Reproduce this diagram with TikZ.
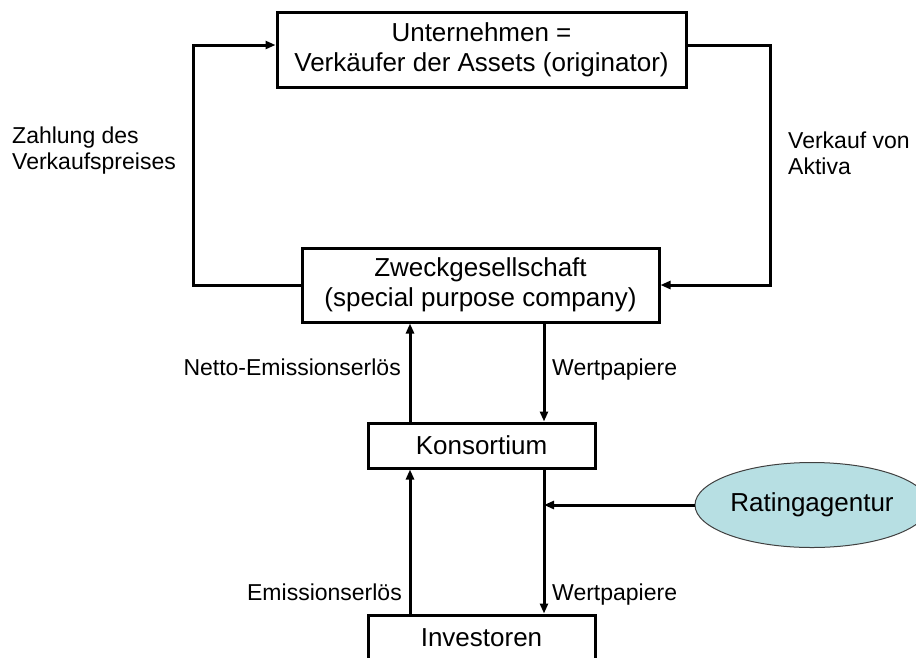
\documentclass[tikz,border=0pt]{standalone}
\usepackage{fontspec}
\setmainfont{Liberation Sans}
\usetikzlibrary{arrows.meta,shapes.geometric,positioning}
\definecolor{ratingfill}{RGB}{183,223,227}

\begin{document}
\begin{tikzpicture}[x=1pt,y=-1pt]
	\useasboundingbox (0,0) rectangle (916,657);
	\begin{scope}[every node/.style={draw,line width=3pt,inner sep=0pt,align=center,
			font=\fontsize{26}{30}\selectfont}]
		\node[minimum width=409pt,minimum height=75pt] (U) at (481.5,49.5) {Unternehmen =\\Verkäufer der Assets (originator)};
		\node[minimum width=357pt,minimum height=74pt] (Z) at (480.5,285) {Zweckgesellschaft\\(special purpose company)};
		\node[minimum width=227pt,minimum height=45pt] (K) at (481.5,445.5) {Konsortium};
		\node[minimum width=227pt,minimum height=45pt] (I) at (481.5,637.5) {Investoren};
		\node[ellipse,line width=1pt,draw=black!75,fill=ratingfill,
			minimum width=234pt,minimum height=85pt] (R) at (812,505) {Ratingagentur};
	\end{scope}

	\begin{scope}[every node/.style={inner sep=0pt,font=\fontsize{23}{26}\selectfont}]
		\node[anchor=west,align=left] (zahlung) at (12,151) {Zahlung des\\Verkaufspreises};
		\node[anchor=west,align=left] (verkauf) at (788,153) {Verkauf von\\Aktiva};
		\node[anchor=base east] (netto) at (401,375) {Netto-Emissionserlös};
		\node[anchor=base west] (wp1) at (552,375) {Wertpapiere};
		\node[anchor=base east] (emis) at (402,600) {Emissionserlös};
		\node[anchor=base west] (wp2) at (552,600) {Wertpapiere};
	\end{scope}

	\coordinate (lcorner) at (193,45);
	\coordinate (rcorner) at (770,45);
	\coordinate (lx) at (410,0);
	\coordinate (rx) at (544,0);

	\begin{scope}[>={Triangle[length=10pt,width=8pt]}, line width=3pt,
		every edge/.style={draw}]
		\draw[->] (Z.west) -| (lcorner) -- (lcorner -| U.west);
		\draw[->] (U.east |- rcorner) -- (rcorner) |- (Z.east);
		\path[->] (K.north -| lx) edge (Z.south -| lx);
		\path[->] (Z.south -| rx) edge (K.north -| rx);
		\path[->] (I.north -| lx) edge (K.south -| lx);
		\path[->] (K.south -| rx) edge (I.north -| rx);
		\path[->] (R.west) edge (R.west -| rx);
	\end{scope}
\end{tikzpicture}
\end{document}
